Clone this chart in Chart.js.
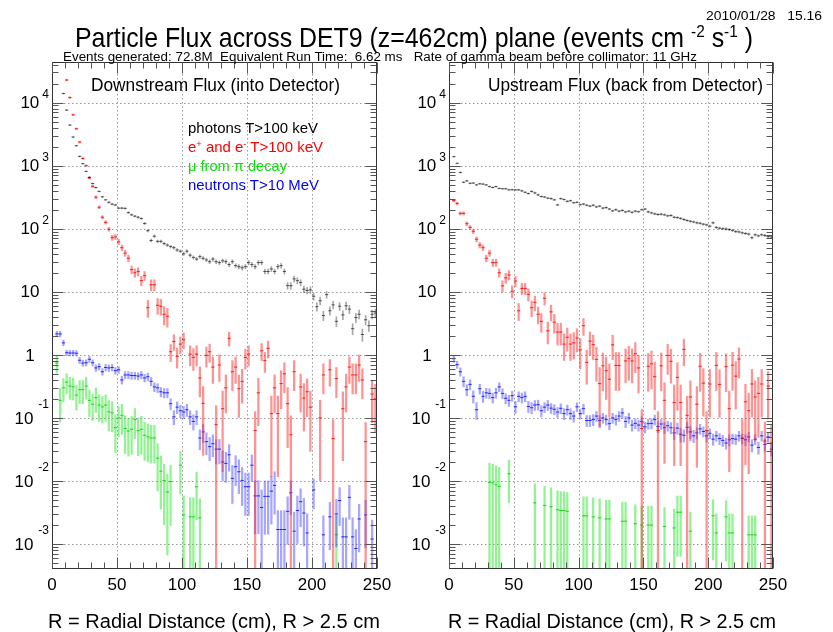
<!DOCTYPE html>
<html><head><meta charset="utf-8">
<script src="https://cdn.jsdelivr.net/npm/chart.js@4.4.1/dist/chart.umd.min.js"></script>
<style>
html,body{margin:0;padding:0;background:#fff;}
body{width:833px;height:632px;position:relative;overflow:hidden;font-family:'Liberation Sans',Arial,Helvetica,sans-serif;color:#000;}
canvas{position:absolute;top:0;}
.t{position:absolute;white-space:pre;line-height:1;transform-origin:0 0;}
.t sup{font-size:0.62em;vertical-align:0.6em;line-height:0;}
</style></head><body>
<canvas id="cL" width="410" height="632" style="left:0px"></canvas>
<canvas id="cR" width="423" height="632" style="left:410px"></canvas>
<div class="t" data-x="706" data-y="15" data-fs="13" data-w="116">2010/01/28   15.16</div>
<div class="t" data-x="75" data-y="38" data-fs="28" data-w="678">Particle Flux across DET9 (z=462cm) plane (events cm <sup>-2</sup> s<sup>-1</sup> )</div>
<div class="t" data-x="63" data-y="57" data-fs="12.5" data-w="634">Events generated: 72.8M  Equivalent Run Time:  6.62 ms   Rate of gamma beam before collimator: 11 GHz</div>
<div class="t" data-x="91" data-y="85" data-fs="18" data-w="249">Downstream Flux (into Detector)</div>
<div class="t" data-x="488" data-y="85" data-fs="18" data-w="275">Upstream Flux (back from Detector)</div>
<div class="t" data-x="188" data-y="128" data-fs="14.5" data-w="130" style="color:#000">photons T&gt;100 keV</div>
<div class="t" data-x="188" data-y="147" data-fs="14.5" data-w="135" style="color:#ff0000">e<sup>+</sup> and e<sup>-</sup> T&gt;100 keV</div>
<div class="t" data-x="188" data-y="166" data-fs="14.5" data-w="99" style="color:#00e600">μ from π decay</div>
<div class="t" data-x="188" data-y="185" data-fs="14.5" data-w="131" style="color:#0000ff">neutrons T&gt;10 MeV</div>
<div class="t" data-x="48" data-y="621" data-fs="20" data-w="332">R = Radial Distance (cm), R &gt; 2.5 cm</div>
<div class="t" data-x="448" data-y="621" data-fs="20" data-w="328">R = Radial Distance (cm), R &gt; 2.5 cm</div>
<script>
// ---------- bins (R, cm): 99 bins of 2.5 cm from 2.5 to 250 ----------
const binStart = 2.5, binWidth = 2.5, nBins = 99;
const rCenters = [];
for (let k = 0; k < nBins; k++) rCenters.push(binStart + binWidth / 2 + binWidth * k);

// ---------- Downstream (left panel) ----------
const phoDown = [
 null,null,13900,7600,4400,2840,2070,1400,1075,810,
 650,520,450,390,320,287,262,245,238,212,
 212,210,180,166,158,152,145,121,93,65,
 76,63,63,58,55,52,50,46,44,40,
 44,38,35,33,36,34,32,30,33,30,
 29,31,30,27,30,26,25,24,25,29,
 27,25,29,29,21,21,23,21,25,26,
 21,12.5,12.5,16,15,14,11,10.5,10.7,8.5,
 5.8,7.2,4.2,9,5,6.2,3.4,5.9,4.3,6,
 5.3,2.6,3.9,4.4,2.1,3.6,2.9,4.4,4.6];
const phoDownErr = [
 0,0,.02,.02,.02,.02,.02,.02,.02,.02,
 .02,.02,.02,.02,.02,.02,.03,.03,.03,.03,
 .03,.03,.03,.03,.03,.03,.03,.04,.04,.05,
 .05,.05,.05,.05,.05,.05,.05,.05,.05,.06,
 .06,.06,.06,.06,.06,.06,.06,.07,.07,.07,
 .07,.07,.07,.07,.07,.07,.08,.08,.08,.08,
 .08,.08,.08,.08,.09,.09,.09,.09,.09,.09,
 .09,.12,.12,.11,.11,.11,.12,.12,.12,.13,
 .15,.14,.17,.12,.15,.14,.18,.14,.16,.14,
 .15,.2,.17,.16,.22,.17,.19,.16,.16];
const eDown = [
 null,null,null,22800,12000,6400,3850,2370,1300,1000,
 640,470,316,219,152,126,98,72,74,62,
 50,41,34,22.5,20,21,15,18,5.6,12.9,
 12.9,6.1,5.9,4.4,4.1,1.12,1.63,0.95,1.48,1.73,
 null,1.03,0.91,1.03,0.43,0.17,0.98,1.12,0.64,0.078,
 0.69,0.14,0.30,1.83,0.54,0.64,0.29,0.38,0.91,1.03,
 null,0.063,0.25,1.16,0.81,1.27,0.117,0.30,0.117,0.35,
 0.50,0.168,0.054,0.54,null,0.31,0.206,0.26,0.148,null,
 null,0.1,0.48,null,0.58,0.047,0.42,null,0.14,0.31,
 0.64,0.48,0.48,0.69,0.4,0.042,null,0.24,0.2];
const eDownErr = [
 0,0,0,.03,.03,.03,.03,.03,.03,.03,
 .04,.04,.05,.05,.06,.06,.07,.09,.09,.1,
 .1,.11,.12,.14,.15,.15,.17,.16,.3,.2,
 .2,.28,.28,.32,.33,.3,.28,.35,.3,.28,
 0,.35,.38,.35,.5,.85,.35,.32,.45,1,
 .45,.9,.6,.25,.5,.45,.65,.55,.35,.35,
 0,1,.7,.3,.35,.3,.9,.6,.9,.6,
 .5,.8,1,.5,0,.6,.7,.6,.8,0,
 0,.9,.5,0,.45,1,.5,0,.85,.6,
 .45,.5,.5,.45,.5,1,0,.65,.7];
const muDown = [
 0.74,0.19,0.30,0.37,0.32,0.31,0.23,0.28,0.28,0.32,
 0.19,0.165,0.21,0.16,0.15,0.16,0.125,0.12,0.07,0.10,
 0.11,0.068,0.062,0.066,0.094,0.063,0.066,0.053,0.05,0.048,
 0.048,0.023,0.0143,0.0102,0.0067,0.0098,null,null,0.0178,0.0029,
 null,0.0027,0.0027,0.0081,0.0026,null,null,null,null,null,
 null,null,null,null,null,null,null,null,null,null,
 null,null,null,null,null,null,null,null,null,null,
 null,null,null,null,null,null,null,null,null,null,
 null,null,null,null,null,null,0.0014,null,null,null,
 null,null,null,null,null,null,null,null,null];
const muDownErr = [
 .3,.55,.4,.35,.38,.38,.42,.4,.4,.38,
 .45,.45,.42,.45,.45,.45,.5,.5,.6,.5,
 .5,.6,.6,.6,.5,.6,.6,.6,.6,.6,
 .6,.7,.75,.8,.9,.8,0,0,.65,1,
 0,1,1,.7,1,0,0,0,0,0,
 0,0,0,0,0,0,0,0,0,0,
 0,0,0,0,0,0,0,0,0,0,
 0,0,0,0,0,0,0,0,0,0,
 0,0,0,0,0,0,1,0,0,0,
 0,0,0,0,0,0,0,0,0];
const nDown = [
 2.15,2.15,1.55,1.08,1.07,1.07,1.06,0.82,0.74,0.75,
 0.85,0.75,0.62,0.65,0.54,0.63,0.62,0.63,0.56,0.58,
 0.40,0.48,0.48,0.47,0.47,0.46,0.48,0.43,0.45,0.38,
 0.31,0.30,0.26,0.25,0.25,0.168,0.104,0.148,0.13,0.124,
 0.135,0.104,0.088,0.104,0.048,0.06,0.042,0.035,0.039,0.032,
 0.032,0.020,0.019,0.026,0.011,0.0168,0.014,0.0102,0.0081,0.0081,
 0.0178,0.0058,0.0058,0.0038,0.0057,0.0057,0.0069,0.0085,0.0017,0.0017,
 0.0017,0.0033,0.0065,0.0016,0.0034,0.0047,0.0031,0.0015,null,0.0072,
 null,null,0.0014,null,0.0027,null,0.003,0.0049,0.0013,0.0013,
 0.0055,0.0013,0.00085,0.0025,null,0.0029,null,0.0012,null];
const nDownErr = [
 .1,.1,.1,.1,.1,.1,.1,.11,.11,.11,
 .11,.11,.12,.12,.12,.12,.12,.12,.12,.12,
 .14,.13,.13,.13,.13,.13,.13,.14,.14,.15,
 .16,.16,.17,.17,.17,.2,.25,.21,.22,.22,
 .22,.25,.27,.25,.35,.32,.38,.4,.38,.42,
 .42,.5,.5,.45,.6,.5,.55,.6,.65,.65,
 .45,.75,.75,.9,.75,.75,.7,.65,1,1,
 1,.7,.55,1,.7,.6,.7,1,0,.5,
 0,0,1,0,.7,0,.7,.6,1,1,
 .55,1,1,.7,0,.7,0,1,0];

// ---------- Upstream (right panel) ----------
const phoUp = [
 1390,1090,780,545,573,525,530,495,515,510,
 495,466,450,466,435,430,430,413,415,413,
 413,398,378,361,390,370,344,324,318,305,
 300,287,238,300,290,272,278,258,262,240,
 246,236,228,236,222,228,212,216,205,192,
 200,190,195,185,190,182,190,186,200,205,
 185,178,172,168,170,166,160,162,152,150,
 146,140,135,131,128,124,122,118,115,110,
 124,105,102,100,99,97,94,90,89,86,
 84,82,72,80,77,80,78,75,74];
const phoUpErr = [
 .02,.02,.02,.02,.02,.02,.02,.02,.02,.02,
 .02,.02,.02,.02,.02,.02,.02,.02,.02,.02,
 .025,.025,.025,.025,.025,.025,.025,.025,.025,.025,
 .025,.025,.025,.025,.025,.025,.025,.025,.025,.025,
 .03,.03,.03,.03,.03,.03,.03,.03,.03,.03,
 .03,.03,.03,.03,.03,.03,.03,.03,.03,.03,
 .035,.035,.035,.035,.035,.035,.035,.035,.035,.035,
 .035,.035,.035,.035,.035,.035,.035,.035,.035,.035,
 .04,.04,.04,.04,.04,.04,.04,.04,.04,.04,
 .04,.04,.04,.04,.04,.04,.04,.04,.04];
const eUp = [
 280,252,175,175,120,105,91,68,55,50,
 34,41,29,29,20,12.4,16.6,18.5,10.2,14.8,
 5.0,11.3,11.3,9.1,5.6,6.8,4.4,3.4,7.9,2.4,
 4.8,3.3,2.3,2.3,1.48,1.9,1.48,1.55,1.85,1.2,
 2.9,0.76,1.65,1.45,0.85,0.35,0.67,0.56,0.41,1.44,
 0.68,0.68,null,0.8,0.88,0.8,1.04,0.62,0.068,null,
 0.66,0.72,0.45,0.063,0.67,0.19,0.98,0.79,0.175,0.44,
 0.175,1.22,0.11,0.215,null,0.165,0.66,0.355,0.063,0.345,
 null,0.68,0.34,null,0.65,0.14,0.685,0.46,0.86,0.048,
 0.18,0.13,0.345,0.215,0.245,0.345,0.043,0.32,0.04];
const eUpErr = [
 .05,.05,.06,.06,.07,.07,.08,.09,.1,.1,
 .12,.11,.13,.13,.15,.2,.18,.17,.22,.18,
 .3,.2,.2,.22,.28,.26,.3,.33,.22,.38,
 .28,.33,.38,.38,.45,.4,.45,.45,.4,.5,
 .3,.55,.4,.42,.55,.8,.6,.65,.75,.42,
 .6,.6,0,.55,.55,.55,.5,.6,1,0,
 .6,.6,.7,1,.6,.9,.5,.55,.9,.7,
 .9,.45,1,.8,0,.9,.6,.7,1,.7,
 0,.6,.7,0,.6,.9,.6,.7,.5,1,
 .9,.9,.7,.8,.8,.7,1,.7,1];
const muUp = [
 null,null,null,null,null,null,null,null,null,null,
 null,0.0095,0.0093,0.0087,0.0082,null,null,0.013,null,null,
 null,null,null,null,null,0.0045,null,null,0.0041,null,
 0.0039,null,0.0035,0.0034,0.0034,0.0033,null,null,null,null,
 0.0028,0.0028,null,0.0027,null,0.0026,null,0.0025,0.0025,null,
 null,null,0.0023,0.0023,null,null,0.0021,null,0.002,null,
 0.002,0.002,null,null,null,0.0019,null,null,0.0018,0.0032,
 0.0032,null,null,0.0016,null,null,null,null,null,null,
 0.0028,0.0015,null,null,0.0027,0.0015,0.0015,null,null,null,
 null,0.0014,0.0014,0.0014,null,null,null,null,null];
const muUpErr = [
 0,0,0,0,0,0,0,0,0,0,
 0,1,1,1,1,0,0,.65,0,0,
 0,0,0,0,0,1,0,0,1,0,
 1,0,1,1,1,1,0,0,0,0,
 1,1,0,1,0,1,0,1,1,0,
 0,0,1,1,0,0,1,0,1,0,
 1,1,0,0,0,1,0,0,1,.8,
 .8,0,0,1,0,0,0,0,0,0,
 .8,1,0,0,.8,1,1,0,0,0,
 0,1,1,1,0,0,0,0,0];
const nUp = [
 0.87,0.70,0.54,0.38,0.28,0.34,0.22,0.135,0.29,0.22,
 0.25,0.245,0.21,0.25,0.31,0.245,0.205,0.19,0.225,0.15,
 0.22,0.21,0.22,0.152,0.145,0.16,0.162,0.13,0.148,0.16,
 0.143,0.137,0.124,0.142,0.117,0.135,0.117,0.107,0.15,0.117,
 0.14,0.091,0.091,0.094,0.107,0.091,0.1,0.094,0.081,0.1,
 0.094,0.107,0.12,0.088,0.1,0.077,0.082,0.077,0.088,0.072,
 0.081,0.082,0.094,0.073,0.08,0.07,0.075,0.07,0.058,0.069,
 0.055,0.053,0.071,0.06,0.052,0.058,0.067,0.061,0.052,0.057,
 0.046,0.052,0.047,0.044,0.04,0.045,0.047,0.046,0.052,0.047,
 0.045,0.05,0.037,0.046,0.034,0.052,0.038,0.05,0.032];
const nUpErr = [
 .12,.13,.15,.18,.2,.18,.22,.3,.18,.2,
 .18,.18,.18,.18,.16,.18,.18,.2,.18,.22,
 .18,.18,.18,.2,.2,.18,.18,.2,.18,.18,
 .18,.18,.18,.18,.2,.18,.2,.2,.16,.18,
 .18,.2,.2,.2,.18,.2,.18,.18,.2,.18,
 .18,.18,.18,.2,.18,.2,.18,.2,.18,.2,
 .18,.18,.18,.2,.18,.2,.18,.2,.22,.2,
 .25,.22,.2,.22,.22,.2,.18,.18,.2,.18,
 .2,.18,.2,.2,.2,.2,.18,.18,.18,.18,
 .2,.18,.22,.18,.22,.18,.22,.18,.22];

// ---------- axis ticks ----------
const yTickValues = [1e-3, 1e-2, 1e-1, 1, 10, 100, 1000, 10000];
const yTickBase   = ['10','10','10','1','10','10','10','10'];
const yTickExp    = ['-3','-2','-1','','','2','3','4'];
const xTickValues = [0, 50, 100, 150, 200, 250];
const xTickLabels = ['0','50','100','150','200','250'];
const xGridValues = [50, 100, 150, 200];
const xMinorStep = 10;
const yMin = 4.02e-4, yMax = 4.4e4;

[phoDown,phoDownErr,eDown,eDownErr,muDown,muDownErr,nDown,nDownErr,
 phoUp,phoUpErr,eUp,eUpErr,muUp,muUpErr,nUp,nUpErr].forEach((a,i)=>{
  if (a.length !== nBins) throw new Error('array ' + i + ' has length ' + a.length);
});

// ---------- text placement ----------
document.querySelectorAll('.t').forEach(el => {
  const fs = +el.dataset.fs;
  el.style.fontSize = fs + 'px';
  el.style.left = el.dataset.x + 'px';
  el.style.top = (+el.dataset.y - 0.49 * fs) + 'px';
  const w = el.getBoundingClientRect().width;
  el.style.transform = 'scaleX(' + (+el.dataset.w / w) + ')';
});

// ---------- datasets ----------
const styles = {
  pho: {mark: 'rgba(0,0,0,0.6)',     bar: 'rgba(0,0,0,0.35)',     w: 1},
  e:   {mark: 'rgba(255,0,0,0.85)',  bar: 'rgba(255,40,40,0.5)',  w: 1.6},
  mu:  {mark: 'rgba(0,210,0,0.85)',  bar: 'rgba(40,230,40,0.5)',  w: 1.6},
  n:   {mark: 'rgba(0,0,255,0.8)',   bar: 'rgba(60,60,255,0.45)', w: 1.6}
};
function pts(vals) {
  const o = [];
  vals.forEach((v, i) => { if (v != null) o.push({x: rCenters[i], y: v}); });
  return o;
}
function errs(vals, rel) {
  const o = [];
  vals.forEach((v, i) => {
    if (v == null) return;
    const e = v * rel[i];
    const lo = (v - e) > 0 ? v - e : 1e-9;
    o.push({x: rCenters[i], y: [lo, v + e]});
  });
  return o;
}
function seriesDatasets(vals, rel, st) {
  return [
    {type: 'scatter', data: pts(vals), showLine: false, pointStyle: 'line',
     pointRadius: 1.65, pointBorderWidth: 1, pointBorderColor: st.mark,
     pointBackgroundColor: st.mark, pointHoverRadius: 1.65},
    {type: 'bar', data: errs(vals, rel), backgroundColor: st.bar, borderWidth: 0,
     barThickness: st.w, grouped: false}
  ];
}

function line(ctx, x1, y1, x2, y2) { ctx.beginPath(); ctx.moveTo(x1, y1); ctx.lineTo(x2, y2); ctx.stroke(); }

const rootAxes = {
  id: 'rootAxes',
  beforeDatasetsDraw(chart) {
    const {ctx, chartArea: a, scales: {x, y}} = chart;
    ctx.save();
    ctx.strokeStyle = '#999'; ctx.lineWidth = 1; ctx.setLineDash([1.5, 2.5]);
    xGridValues.forEach(v => { const px = Math.round(x.getPixelForValue(v)) + 0.5; line(ctx, px, a.top, px, a.bottom); });
    yTickValues.forEach(v => { const py = Math.round(y.getPixelForValue(v)) + 0.5; line(ctx, a.left, py, a.right, py); });
    ctx.restore();
  },
  afterDatasetsDraw(chart) {
    const {ctx, chartArea: a, scales: {x, y}} = chart;
    ctx.save();
    ctx.setLineDash([]);
    const L = Math.round(a.left) + 0.5, R = Math.round(a.right) - 0.5;
    const T = Math.round(a.top) + 0.5, B = Math.round(a.bottom) - 0.5;
    ctx.strokeStyle = '#333'; ctx.lineWidth = 1;
    ctx.strokeRect(L, T, R - L, B - T);
    ctx.strokeStyle = '#555';
    for (let v = x.min; v <= x.max; v += xMinorStep) {
      const px = Math.round(x.getPixelForValue(v)) + 0.5;
      const len = xTickValues.includes(v) ? 11 : 6;
      line(ctx, px, B, px, B - len); line(ctx, px, T, px, T + len);
    }
    for (let d = -4; d <= 4; d++) for (let m = 1; m <= 9; m++) {
      const v = m * Math.pow(10, d);
      if (v < y.min || v > y.max) continue;
      const py = Math.round(y.getPixelForValue(v)) + 0.5;
      const len = m === 1 ? 11 : 6;
      line(ctx, L, py, L + len, py); line(ctx, R, py, R - len, py);
    }
    ctx.fillStyle = '#000';
    ctx.textBaseline = 'middle';
    yTickValues.forEach((v, i) => {
      const py = y.getPixelForValue(v);
      if (yTickExp[i]) {
        ctx.font = '12px "Liberation Sans", Arial, sans-serif';
        ctx.textAlign = 'right';
        const ew = ctx.measureText(yTickExp[i]).width;
        const neg = yTickExp[i][0] === '-';
        ctx.fillText(yTickExp[i], a.left - 3, py - (neg ? 13 : 8));
        ctx.font = '17px "Liberation Sans", Arial, sans-serif';
        ctx.fillText(yTickBase[i], a.left - 3 - ew - (neg ? 5 : 3), py + 1);
      } else {
        ctx.font = '17px "Liberation Sans", Arial, sans-serif';
        ctx.textAlign = 'center';
        ctx.fillText(yTickBase[i], a.left - 22, py + 1);
      }
    });
    ctx.font = '17px "Liberation Sans", Arial, sans-serif';
    ctx.textAlign = 'center';
    xTickValues.forEach((v, i) => {
      ctx.fillText(xTickLabels[i], x.getPixelForValue(v), a.bottom + 16);
    });
    ctx.restore();
  }
};

function makeChart(id, pad, series) {
  const datasets = [];
  series.forEach(s => datasets.push(...seriesDatasets(s[0], s[1], s[2])));
  return new Chart(document.getElementById(id), {
    type: 'scatter',
    data: {datasets},
    options: {
      responsive: false, animation: false, events: [],
      layout: {padding: pad},
      plugins: {legend: {display: false}, tooltip: {enabled: false}},
      scales: {
        x: {type: 'linear', min: 0, max: 250, display: false, offset: false},
        y: {type: 'logarithmic', min: yMin, max: yMax, display: false}
      }
    },
    plugins: [rootAxes]
  });
}

makeChart('cL', {left: 52, right: 33, top: 62, bottom: 63}, [
  [phoDown, phoDownErr, styles.pho],
  [eDown, eDownErr, styles.e],
  [nDown, nDownErr, styles.n],
  [muDown, muDownErr, styles.mu]
]);
makeChart('cR', {left: 39, right: 60, top: 62, bottom: 63}, [
  [phoUp, phoUpErr, styles.pho],
  [eUp, eUpErr, styles.e],
  [nUp, nUpErr, styles.n],
  [muUp, muUpErr, styles.mu]
]);
</script>
</body></html>
